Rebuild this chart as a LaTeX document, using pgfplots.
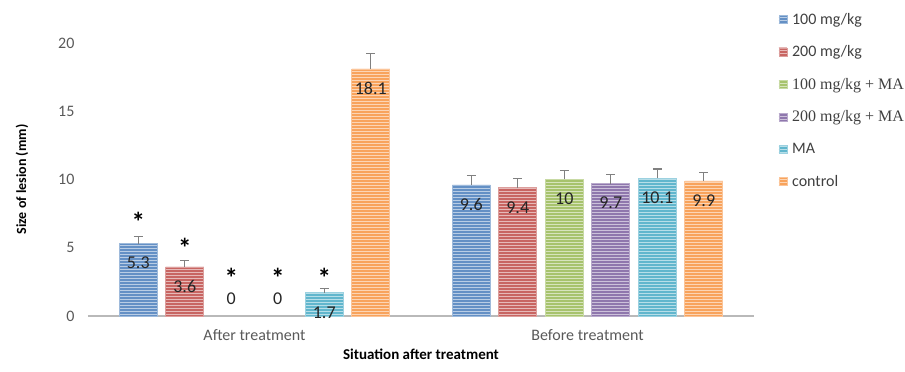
\documentclass[border=0pt]{standalone}
\usepackage{fontspec}
\setmainfont{Carlito}
\newfontfamily\tnr{Liberation Serif}
\usepackage{pgfplots}
\pgfplotsset{compat=1.18}
\usetikzlibrary{patterns}
\definecolor{cBlue}{HTML}{4F81BD}
\definecolor{cRed}{HTML}{C0504D}
\definecolor{cGreen}{HTML}{9BBB59}
\definecolor{cPurple}{HTML}{8064A2}
\definecolor{cAqua}{HTML}{4BACC6}
\definecolor{cOrange}{HTML}{F79646}
\pgfplotsset{
  mybar/.style={fill=#1!88!white, draw=#1!55!white, line width=0.6pt,
    postaction={pattern=horizontal lines, pattern color=#1!40!white},
    nodes near coords,
    nodes near coords style={anchor=north, yshift=-10pt, font=\fontsize{18}{21}\selectfont, text=black!85},
    error bars/y dir=plus, error bars/y explicit,
    error bars/error bar style={draw=gray, line width=1.1pt},
    error bars/error mark options={rotate=90, mark size=4.5pt, draw=gray, line width=1.1pt}},
  star/.style={draw=none, fill=none, forget plot, nodes near coords={\smash{\textbf{*}}},
    nodes near coords style={anchor=center, yshift=-15pt, inner sep=0pt, font=\fontsize{27}{29}\selectfont, text=black}},
  zerolab/.style={draw=none, fill=none, forget plot, nodes near coords={0},
    nodes near coords style={anchor=center, inner sep=1pt, font=\fontsize{18}{21}\selectfont, text=black!85}},
}
\begin{document}
\begin{tikzpicture}
\path[use as bounding box] (-88pt,-56pt) rectangle (817pt,316pt);
\begin{axis}[
  scale only axis, width=666pt, height=273pt,
  ybar, bar width=38pt,
  xmin=-0.5, xmax=1.5, ymin=0, ymax=20,
  clip=false,
  axis x line=bottom, axis y line=left,
  y axis line style={draw=none},
  x axis line style={draw=gray!55, line width=1.6pt, -},
  xtick={0,1}, xticklabels={After treatment, Before treatment},
  ytick={0,5,10,15,20},
  major tick length=0pt,
  /pgf/number format/assume math mode=true,
  tick label style={font=\fontsize{16}{19}\selectfont, text=black!65},
  yticklabel style={xshift=-10pt},
  xticklabel style={yshift=-10pt},
  xlabel={Situation after treatment},
  ylabel={Size of lesion (mm)},
  every axis x label/.style={at={(rel axis cs:0.5,0)}, anchor=center, yshift=-38pt, font=\bfseries\fontsize{15}{18}\selectfont},
  every axis y label/.style={at={(rel axis cs:0,0.5)}, anchor=center, xshift=-66pt, rotate=90, font=\bfseries\fontsize{14}{17}\selectfont},
  legend style={at={(rel axis cs:1.032,1.125)}, anchor=north west, draw=none, fill=none,
    font=\fontsize{16}{19}\selectfont, text=black!75, row sep=16pt, legend cell align=left,
    /tikz/every odd column/.append style={column sep=3pt}},
  legend image code/.code={\fill[#1] (0pt,-4pt) rectangle (8pt,4pt);},
]
\addplot[mybar=cBlue, bar shift=-116.25pt] coordinates {(0,5.3) +- (0,0.55) (1,9.6) +- (0,0.7)};
\addlegendentry{100 mg/kg}
\addplot[mybar=cRed, bar shift=-69.75pt] coordinates {(0,3.6) +- (0,0.45) (1,9.4) +- (0,0.7)};
\addlegendentry{200 mg/kg}
\addplot[mybar=cGreen, bar shift=-23.25pt] coordinates {(1,10) +- (0,0.67)};
\addlegendentry{\tnr 100 mg/kg + MA}
\addplot[mybar=cPurple, bar shift=23.25pt] coordinates {(1,9.7) +- (0,0.68)};
\addlegendentry{\tnr 200 mg/kg + MA}
\addplot[mybar=cAqua, bar shift=69.75pt] coordinates {(0,1.7) +- (0,0.3) (1,10.1) +- (0,0.67)};
\addlegendentry{MA}
\addplot[mybar=cOrange, bar shift=116.25pt] coordinates {(0,18.1) +- (0,1.15) (1,9.9) +- (0,0.6)};
\addlegendentry{control}
% significance stars (invisible bars carrying the star labels)
\addplot[star, bar shift=-116.25pt] coordinates {(0,7.3)};
\addplot[star, bar shift=-69.75pt] coordinates {(0,5.4)};
\addplot[star, bar shift=-23.25pt] coordinates {(0,3.2)};
\addplot[star, bar shift=23.25pt] coordinates {(0,3.2)};
\addplot[star, bar shift=69.75pt] coordinates {(0,3.2)};
% zero-value labels
\addplot[zerolab, bar shift=-23.25pt] coordinates {(0,1.3)};
\addplot[zerolab, bar shift=23.25pt] coordinates {(0,1.3)};
\end{axis}
\end{tikzpicture}
\end{document}
